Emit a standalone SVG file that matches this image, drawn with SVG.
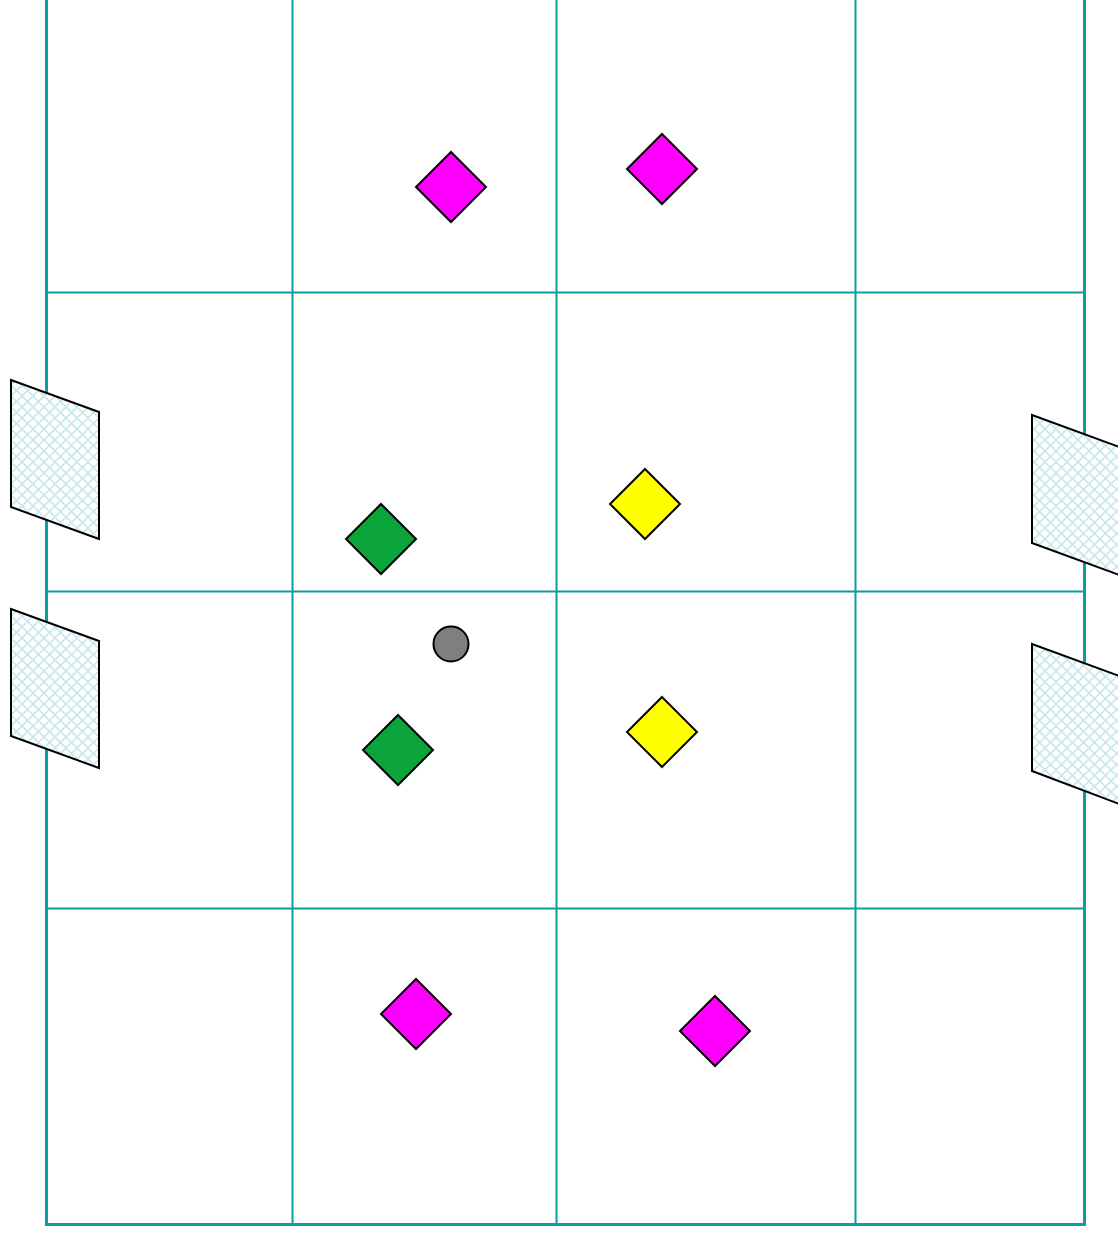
<svg xmlns="http://www.w3.org/2000/svg" width="1118" height="1234" viewBox="0 0 1118 1234">
<defs>
<pattern id="hatch" width="11" height="11" patternUnits="userSpaceOnUse">
<rect width="11" height="11" fill="#fff"/>
<path d="M0,0 L11,11 M11,0 L0,11" stroke="#c8e8ec" stroke-width="1.6" fill="none"/>
</pattern>
<style>
.grid{stroke:#0a9e9e;stroke-width:2;fill:none}
.outer{stroke:#0a9e9e;stroke-width:3;fill:none}
.win{fill:url(#hatch);stroke:#000;stroke-width:2}
.d{stroke:#000;stroke-width:2}
.mag{fill:#ff00ff}
.grn{fill:#0ca53c}
.yel{fill:#ffff00}
</style>
</defs>
<rect width="1118" height="1234" fill="#fff"/>
<g id="grid">
<rect class="outer" x="46.5" y="-20" width="1038" height="1244.5"/>
<line class="grid" x1="292.5" y1="-5" x2="292.5" y2="1224"/>
<line class="grid" x1="556.5" y1="-5" x2="556.5" y2="1224"/>
<line class="grid" x1="855.5" y1="-5" x2="855.5" y2="1224"/>
<line class="grid" x1="46" y1="292.5" x2="1084" y2="292.5"/>
<line class="grid" x1="46" y1="591.5" x2="1084" y2="591.5"/>
<line class="grid" x1="46" y1="908.5" x2="1084" y2="908.5"/>
</g>
<g id="windows">
<polygon id="w1" class="win" points="11,380 99,412 99,539 11,507"/>
<polygon id="w2" class="win" points="11,609 99,641 99,768 11,736"/>
<polygon id="w3" class="win" points="1032,415 1122,448 1122,576 1032,543"/>
<polygon id="w4" class="win" points="1032,644 1122,677 1122,805 1032,771"/>
</g>
<g id="m1"><polygon class="d mag" points="451,152 486,187 451,222 416,187"/></g>
<g id="m2"><polygon class="d mag" points="662,134 697,169 662,204 627,169"/></g>
<g id="m3"><polygon class="d mag" points="416,979 451,1014 416,1049 381,1014"/></g>
<g id="m4"><polygon class="d mag" points="715,996 750,1031 715,1066 680,1031"/></g>
<g id="g1"><polygon class="d grn" points="381,504 416,539 381,574 346,539"/></g>
<g id="g2"><polygon class="d grn" points="398,715 433,750 398,785 363,750"/></g>
<g id="y1"><polygon class="d yel" points="645,469 680,504 645,539 610,504"/></g>
<g id="y2"><polygon class="d yel" points="662,697 697,732 662,767 627,732"/></g>
<g id="c1"><circle cx="451" cy="644" r="17.5" fill="#7f7f7f" stroke="#000" stroke-width="2"/></g>
</svg>
